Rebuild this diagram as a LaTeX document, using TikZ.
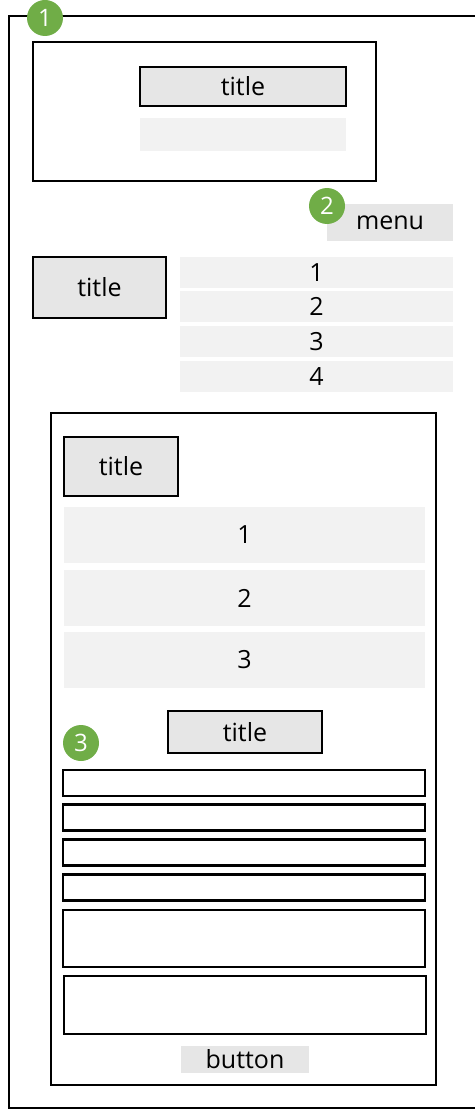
\documentclass[tikz,border=0pt]{standalone}
\usepackage{fontspec}
\setmainfont{Open Sans}
\usepackage{tikz}
\usetikzlibrary{positioning}
\definecolor{badgegreen}{HTML}{70AD47}
\definecolor{titlegray}{HTML}{E6E6E6}
\definecolor{rowgray}{HTML}{F2F2F2}

\begin{document}
\begin{tikzpicture}[x=1pt,y=-1pt,
  frame/.style={draw=black,line width=2.4pt},
  titlebox/.style={frame,fill=titlegray,inner sep=0pt,font=\fontsize{25}{28}\selectfont},
  rowbox/.style={fill=rowgray,inner sep=0pt,font=\fontsize{25}{28}\selectfont},
  inputbox/.style={frame,inner sep=0pt,minimum width=362,minimum height=26},
  badge/.style={circle,fill=badgegreen,text=white,inner sep=0pt,minimum size=36,font=\fontsize{24}{26}\selectfont}]
  \useasboundingbox (0,0) rectangle (474,1110);
  % page frame, open to the right
  \draw[line width=2.4pt] (476,16) -| (9,1108) -- (476,1108);
  \node[badge] (b1) at (45,18) {1};
  % header
  \node[frame,inner sep=0pt,minimum width=343,minimum height=139] (header) at (204.5,111.5) {};
  \node[titlebox,minimum width=206,minimum height=39] (headtitle) at (243,86.5) {title};
  \node[rowbox,minimum width=206,minimum height=33] (headsub) at (243,134.5) {};
  % menu
  \node[rowbox,fill=titlegray,minimum width=126,minimum height=37] (menu) at (390,222.5) {menu};
  \node[badge] (b2) at (327,206) {2};
  \node[titlebox,minimum width=133,minimum height=61] (sidetitle) at (99.5,287.5) {title};
  \foreach \i/\y in {1/272.5,2/306.5,3/341.5,4/376.5}{
    \node[rowbox,minimum width=273,minimum height=31] (menu\i) at (316.5,\y) {\i};
  }
  % content panel
  \node[frame,inner sep=0pt,minimum width=385,minimum height=672] (panel) at (243.5,749) {};
  \node[titlebox,minimum width=114,minimum height=59] (paneltitle) at (121,466.5) {title};
  \foreach \i/\y in {1/535,2/598,3/660}{
    \node[rowbox,minimum width=361,minimum height=56] (item\i) at (244.5,\y) {\i};
  }
  % form
  \node[titlebox,minimum width=154,minimum height=42] (formtitle) at (245,732) {title};
  \node[badge] (b3) at (81,743) {3};
  \foreach \i/\y in {1/783,2/817.5,3/852.5,4/887.5}{
    \node[inputbox] (field\i) at (244,\y) {};
  }
  \node[inputbox,minimum height=57] (area1) at (244,938.5) {};
  \node[inputbox,minimum height=58] (area2) at (245,1005) {};
  \node[rowbox,fill=titlegray,minimum width=128,minimum height=27] (button) at (245,1059.5) {button};
\end{tikzpicture}
\end{document}
